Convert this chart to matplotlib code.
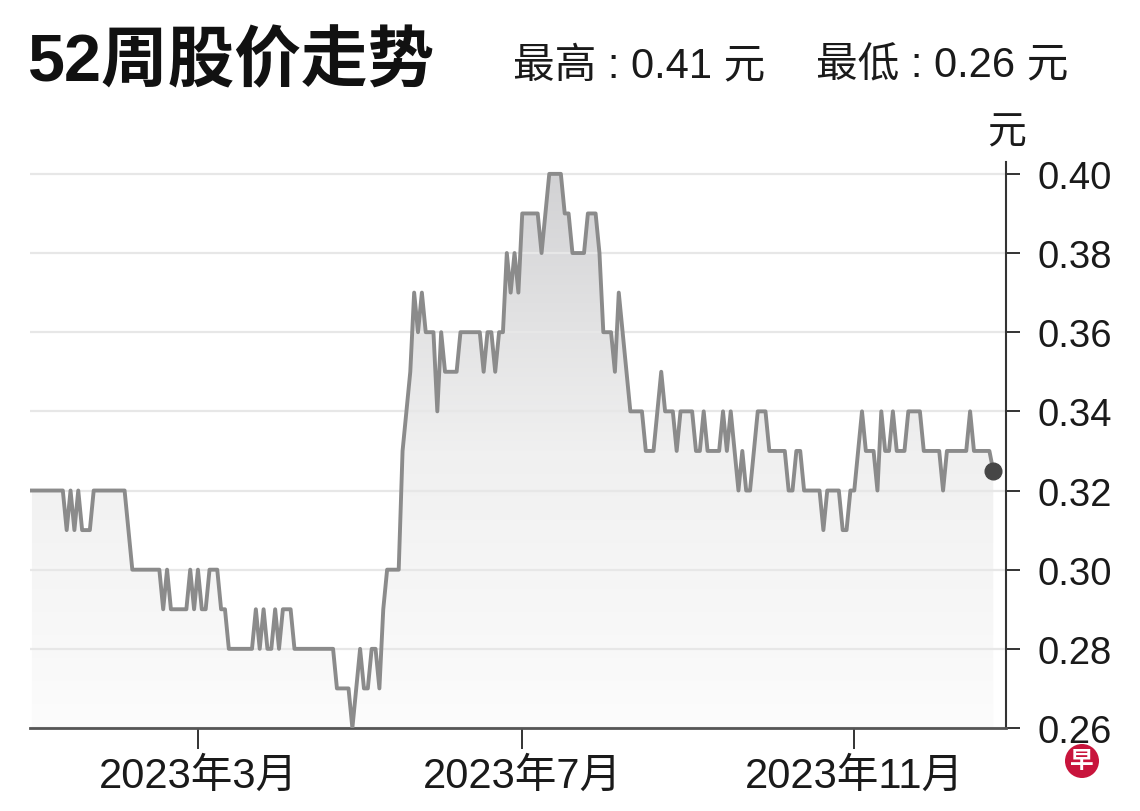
import numpy as np
import matplotlib
matplotlib.use("Agg")
import matplotlib.pyplot as plt
from matplotlib.colors import LinearSegmentedColormap

plt.rcParams['font.family'] = ['Liberation Sans', 'Noto Sans CJK SC', 'DejaVu Sans']

# trading-day axis: first close in the window, plus exchange holidays
start_day = '2022-12-27'
holidays = ['2023-01-02', '2023-01-23', '2023-01-24', '2023-04-07',
            '2023-05-01', '2023-06-02', '2023-06-29', '2023-08-09']
tick_dates = ['2023-03-01', '2023-07-01', '2023-11-01']
tick_labels = ['2023年3月', '2023年7月', '2023年11月']
y_ticks = [0.26, 0.28, 0.30, 0.32, 0.34, 0.36, 0.38, 0.40]
price_high = 0.41
price_low = 0.26

# daily closing price (元)
close = [
    0.32, 0.32, 0.32, 0.32, 0.32, 0.32, 0.32, 0.32, 0.32, 0.31,
    0.32, 0.31, 0.32, 0.31, 0.31, 0.31, 0.32, 0.32, 0.32, 0.32,
    0.32, 0.32, 0.32, 0.32, 0.32, 0.31, 0.30, 0.30, 0.30, 0.30,
    0.30, 0.30, 0.30, 0.30, 0.29, 0.30, 0.29, 0.29, 0.29, 0.29,
    0.29, 0.30, 0.29, 0.30, 0.29, 0.29, 0.30, 0.30, 0.30, 0.29,
    0.29, 0.28, 0.28, 0.28, 0.28, 0.28, 0.28, 0.28, 0.29, 0.28,
    0.29, 0.28, 0.28, 0.29, 0.28, 0.29, 0.29, 0.29, 0.28, 0.28,
    0.28, 0.28, 0.28, 0.28, 0.28, 0.28, 0.28, 0.28, 0.28, 0.27,
    0.27, 0.27, 0.27, 0.26, 0.27, 0.28, 0.27, 0.27, 0.28, 0.28,
    0.27, 0.29, 0.30, 0.30, 0.30, 0.30, 0.33, 0.34, 0.35, 0.37,
    0.36, 0.37, 0.36, 0.36, 0.36, 0.34, 0.36, 0.35, 0.35, 0.35,
    0.35, 0.36, 0.36, 0.36, 0.36, 0.36, 0.36, 0.35, 0.36, 0.36,
    0.35, 0.36, 0.36, 0.38, 0.37, 0.38, 0.37, 0.39, 0.39, 0.39,
    0.39, 0.39, 0.38, 0.39, 0.40, 0.40, 0.40, 0.40, 0.39, 0.39,
    0.38, 0.38, 0.38, 0.38, 0.39, 0.39, 0.39, 0.38, 0.36, 0.36,
    0.36, 0.35, 0.37, 0.36, 0.35, 0.34, 0.34, 0.34, 0.34, 0.33,
    0.33, 0.33, 0.34, 0.35, 0.34, 0.34, 0.34, 0.33, 0.34, 0.34,
    0.34, 0.34, 0.33, 0.33, 0.34, 0.33, 0.33, 0.33, 0.33, 0.34,
    0.33, 0.34, 0.33, 0.32, 0.33, 0.32, 0.32, 0.33, 0.34, 0.34,
    0.34, 0.33, 0.33, 0.33, 0.33, 0.33, 0.32, 0.32, 0.33, 0.33,
    0.32, 0.32, 0.32, 0.32, 0.32, 0.31, 0.32, 0.32, 0.32, 0.32,
    0.31, 0.31, 0.32, 0.32, 0.33, 0.34, 0.33, 0.33, 0.33, 0.32,
    0.34, 0.33, 0.33, 0.34, 0.33, 0.33, 0.33, 0.34, 0.34, 0.34,
    0.34, 0.33, 0.33, 0.33, 0.33, 0.33, 0.32, 0.33, 0.33, 0.33,
    0.33, 0.33, 0.33, 0.34, 0.33, 0.33, 0.33, 0.33, 0.33, 0.325,
]

x = np.arange(len(close))
xt = np.busday_count(start_day, tick_dates, holidays=holidays)

W, H = 1140, 812
fig = plt.figure(figsize=(W / 100, H / 100), dpi=100)
ax = fig.add_axes([30 / W, 83 / H, 976 / W, 566 / H])

xmin, xmax = -0.5, 252.3
ymin, ymax = 0.26, 0.403

# grey gradient under the line, clipped to the area below it
area = ax.fill_between(x, close, ymin, color='none', lw=0)
grad = np.linspace(0, 1, 256).reshape(-1, 1)
cmap = LinearSegmentedColormap.from_list('fade', ['#fcfcfc', '#f0f0f0', '#d2d2d4'])
im = ax.imshow(grad, extent=[xmin, xmax, ymin, 0.40], origin='lower',
               aspect='auto', cmap=cmap, zorder=1)
im.set_clip_path(area.get_paths()[0], transform=ax.transData)

ax.plot(x, close, color='#8b8b8b', lw=2.8, solid_joinstyle='round', zorder=3)
ax.plot(x[-1], close[-1], 'o', ms=12, color='#464646', zorder=4, clip_on=False)

ax.set_xlim(xmin, xmax)
ax.set_ylim(ymin, ymax)

ax.set_yticks(y_ticks)
ax.set_yticklabels([f'{v:.2f}' for v in y_ticks])
ax.yaxis.tick_right()
ax.grid(axis='y', color='#e7e7e7', lw=1.6)
ax.tick_params(axis='y', direction='out', length=10, width=1.4, color='#333333',
               pad=13, labelsize=27.5, labelcolor='#1a1a1a')

ax.set_xticks(xt)
ax.set_xticklabels(tick_labels)
ax.tick_params(axis='x', direction='out', length=15, width=1.4, color='#333333',
               pad=5, labelsize=30, labelcolor='#1a1a1a')

for s in ['top', 'left']:
    ax.spines[s].set_visible(False)
ax.spines['right'].set_color('#333333')
ax.spines['right'].set_linewidth(1.5)
ax.spines['bottom'].set_color('#555555')
ax.spines['bottom'].set_linewidth(2)

# headings
fig.text(28 / W, 1 - 64 / H, '52周股价走势', fontsize=48, weight='bold',
         ha='left', va='center', color='#111111')
fig.text(513 / W, 1 - 66 / H, f'最高 : {price_high:.2f} 元', fontsize=30,
         ha='left', va='center', color='#1a1a1a')
fig.text(816 / W, 1 - 66 / H, f'最低 : {price_low:.2f} 元', fontsize=30,
         ha='left', va='center', color='#1a1a1a')
fig.text(1007 / W, 1 - 133 / H, '元', fontsize=28, ha='center', va='center',
         color='#1a1a1a')

# logo
fig.text(1082 / W, 1 - 762 / H, '早', fontsize=17, weight='bold', color='white',
         ha='center', va='center',
         bbox=dict(boxstyle='circle,pad=0.22', fc='#c8143c', ec='none'))

fig.savefig('out.png', dpi=100)
